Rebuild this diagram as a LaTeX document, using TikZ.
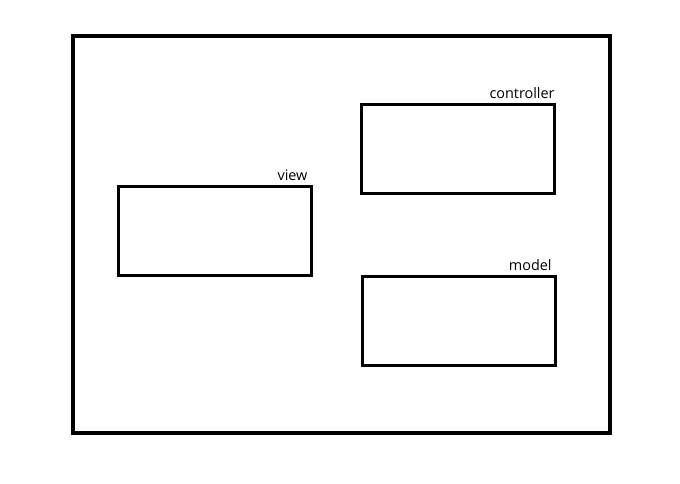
\documentclass[tikz,border=0pt]{standalone}
\usepackage{fontspec}
\setmainfont{Open Sans}
\usetikzlibrary{positioning}

\tikzset{
    part/.style={draw, line width=2.25pt, minimum width=144.75pt, minimum height=66.75pt, inner sep=0pt},
    tag/.style={font=\fontsize{10.8}{12}\selectfont, inner sep=0pt, anchor=south east}
}

\begin{document}
\begin{tikzpicture}[x=0.75pt, y=-0.75pt]
    \useasboundingbox (0, 0) rectangle (680, 483);
    \draw [line width=3pt] (73, 36) rectangle (610, 433);
    \node [part] (view) at (215, 230.5) {};
    \node [part] (controller) at (457.5, 148.5) {};
    \node [part] (model) at (458.5, 320.5) {};
    \node [tag] (viewtag) at ([xshift=-4pt, yshift=3pt]view.north east) {view};
    \node [tag] (controllertag) at ([xshift=-0.5pt, yshift=3pt]controller.north east) {controller};
    \node [tag] (modeltag) at ([xshift=-3.5pt, yshift=3pt]model.north east) {model};
\end{tikzpicture}
\end{document}
